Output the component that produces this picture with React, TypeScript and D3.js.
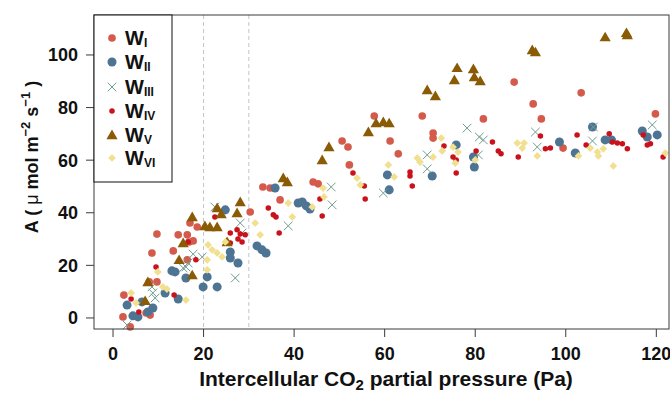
import React from "react";
import * as d3 from "d3";

// Photosynthesis (A) vs intercellular CO2 partial pressure (Ci), six groups W_I..W_VI
const wI: [number, number][] = [
  [2.2, 0.4], [3.8, -3.4], [2.4, 8.7], [7.3, 1.9], [8.2, 1.1], [8.0, 13.7], [9.7, 13.7],
  [8.6, 24.7], [9.7, 31.9], [13.3, 25.5], [14.4, 31.6], [16.4, 31.6], [16.8, 28.9],
  [17.7, 29.3], [16.4, 22.1], [17.0, 36.1], [18.6, 34.6], [30.3, 40.3], [33.1, 49.8],
  [34.7, 49.4], [36.9, 44.9], [44.2, 51.7], [45.3, 51.0], [50.6, 67.3], [51.9, 65.0],
  [52.2, 58.2], [57.7, 76.8], [61.2, 67.3], [63.0, 62.4], [68.3, 76.8], [70.7, 70.3],
  [70.7, 68.4], [81.8, 75.7], [88.6, 89.7], [92.8, 81.4], [94.6, 75.7], [99.4, 64.6],
  [103.4, 85.6], [119.8, 77.6],
];
const wII: [number, number][] = [
  [3.1, 4.9], [4.4, 0.8], [5.5, 0.4], [6.4, 6.1], [7.7, 2.3], [8.8, 3.8], [11.5, 9.5],
  [13.0, 17.9], [13.7, 17.5], [14.4, 7.2], [16.1, 15.2], [19.9, 11.8], [20.8, 15.6],
  [23.0, 11.8], [24.8, 41.1], [25.9, 25.1], [25.9, 22.8], [27.6, 20.9], [31.8, 27.4],
  [32.9, 25.9], [33.8, 24.7], [35.8, 49.4], [40.9, 43.7], [41.8, 44.1], [42.7, 42.6],
  [43.5, 41.4], [60.6, 54.4], [61.0, 48.7], [70.5, 54.0], [75.8, 65.8], [79.6, 61.2],
  [79.8, 57.4], [98.6, 66.9], [102.1, 62.7], [105.9, 72.6], [108.7, 67.7], [110.1, 67.7],
  [116.9, 71.1], [118.0, 68.8], [120.2, 69.6],
];
const wIII: [number, number][] = [
  [3.1, -2.7], [8.6, 11.8], [8.8, 9.5], [9.3, 7.6], [15.5, 19.0], [16.1, 19.4],
  [16.6, 20.9], [17.7, 24.3], [19.7, 23.2], [22.5, 42.2], [28.1, 36.1], [28.5, 32.3],
  [27.0, 15.2], [38.7, 35.0], [48.2, 49.8], [48.4, 43.0], [59.7, 47.5], [69.4, 62.0],
  [69.4, 56.7], [78.2, 72.2], [80.9, 68.8], [81.8, 67.7], [80.7, 62.0], [93.3, 70.7],
  [93.7, 65.0], [106.1, 72.6], [105.9, 67.3], [119.1, 73.4],
];
const wIV: [number, number][] = [
  [4.0, 7.2], [5.7, 2.3], [9.5, 19.4], [13.5, 8.7], [16.6, 28.9], [18.3, 22.1],
  [22.5, 38.4], [25.9, 32.3], [27.4, 33.5], [28.1, 31.9], [27.6, 30.0], [28.5, 28.9],
  [25.9, 28.5], [29.2, 31.6], [34.3, 41.8], [35.4, 39.2], [36.0, 38.4], [36.7, 32.3],
  [45.7, 45.2], [46.2, 38.8], [53.0, 55.1], [55.5, 50.2], [55.7, 45.2], [65.6, 55.5],
  [65.6, 54.0], [66.1, 50.2], [73.1, 65.4], [75.1, 61.2], [75.8, 60.1], [75.8, 55.1],
  [80.2, 63.5], [83.8, 66.9], [85.1, 63.5], [85.7, 62.4], [89.5, 61.2], [94.4, 69.2],
  [95.5, 64.3], [96.6, 64.6], [102.5, 69.6], [104.5, 65.8], [109.6, 70.0], [110.3, 66.9],
  [111.4, 66.5], [112.5, 66.2], [113.6, 64.3], [117.1, 69.6], [118.0, 65.8], [118.7, 66.2],
  [121.5, 61.2],
];
const wV: [number, number][] = [
  [7.1, 6.5], [7.7, 13.7], [14.6, 22.1], [15.5, 28.5], [17.5, 38.4], [17.5, 16.3],
  [20.3, 35.0], [21.4, 34.6], [23.0, 34.6], [23.0, 41.8], [23.9, 39.5], [28.1, 44.1],
  [27.4, 39.9], [25.2, 28.9], [37.6, 53.2], [38.5, 51.7], [46.2, 60.1], [47.7, 65.0],
  [56.4, 70.7], [58.1, 74.1], [59.7, 74.5], [61.0, 74.1], [69.4, 86.7], [71.2, 84.4],
  [75.4, 90.5], [76.0, 95.1], [79.6, 94.7], [79.8, 91.6], [81.1, 90.1], [92.6, 101.9],
  [93.3, 101.1], [108.7, 106.8], [113.4, 108.4], [113.6, 107.6],
];
const wVI: [number, number][] = [
  [4.0, 9.5], [5.1, 5.7], [9.9, 17.5], [11.0, 11.8], [11.9, 11.0], [16.1, 6.8],
  [21.0, 27.8], [21.9, 25.9], [23.0, 24.7], [24.1, 23.2], [20.8, 22.1], [20.8, 18.3],
  [24.8, 28.9], [31.4, 36.1], [32.5, 31.6], [38.7, 43.7], [39.6, 38.4], [44.0, 42.2],
  [46.4, 49.4], [46.6, 46.0], [53.9, 53.2], [54.6, 50.6], [60.8, 58.2], [62.1, 53.6],
  [67.2, 60.8], [67.8, 59.3], [72.5, 68.4], [72.7, 63.5], [70.7, 61.2], [75.1, 65.0],
  [76.2, 63.1], [75.6, 58.9], [80.0, 60.1], [89.3, 66.5], [90.8, 66.5], [90.4, 64.6],
  [93.7, 61.6], [102.8, 61.6], [105.4, 64.6], [107.0, 63.1], [107.2, 61.6], [108.3, 64.3],
  [110.5, 57.8], [122.0, 62.7],
];

const xTicks = [0, 20, 40, 60, 80, 100, 120];
const yTicks = [0, 20, 40, 60, 80, 100];
const refLines = [20, 30];
const groupNames = ["I", "II", "III", "IV", "V", "VI"];

type Shape = "circle" | "bigcircle" | "cross" | "dot" | "triangle" | "diamond";
const groups: { data: [number, number][]; shape: Shape; color: string }[] = [
  { data: wI, shape: "circle", color: "#d45a4b" },
  { data: wII, shape: "bigcircle", color: "#4e7494" },
  { data: wIII, shape: "cross", color: "#6f9e8e" },
  { data: wIV, shape: "dot", color: "#c9121c" },
  { data: wV, shape: "triangle", color: "#8a5a05" },
  { data: wVI, shape: "diamond", color: "#f0e08f" },
];

const W = 670;
const H = 393;
const plot = { left: 94, right: 669, top: 15, bottom: 329 };

const x = d3.scaleLinear().domain([-4.2, 122.8]).range([plot.left, plot.right]);
const y = d3.scaleLinear().domain([-4.2, 115.2]).range([plot.bottom, plot.top]);

const circleSym = d3.symbol().type(d3.symbolCircle).size(46)()!;
const bigCircleSym = d3.symbol().type(d3.symbolCircle).size(64)()!;
const dotSym = d3.symbol().type(d3.symbolCircle).size(24)()!;
const triSym = d3.symbol().type(d3.symbolTriangle).size(54)()!;
const diamondSym = d3.symbol().type(d3.symbolSquare).size(30)()!;

function Marker({ shape, color, cx, cy }: { shape: Shape; color: string; cx: number; cy: number }) {
  const t = `translate(${cx},${cy})`;
  switch (shape) {
    case "circle":
      return <path d={circleSym} transform={t} fill={color} />;
    case "bigcircle":
      return <path d={bigCircleSym} transform={t} fill={color} />;
    case "dot":
      return <path d={dotSym} transform={t} fill={color} />;
    case "triangle":
      return <path d={triSym} transform={`${t} translate(0,1)`} fill={color} />;
    case "diamond":
      return <path d={diamondSym} transform={`${t} rotate(45)`} fill={color} />;
    case "cross": {
      const r = 4.3;
      return (
        <g transform={t} stroke={color} strokeWidth={1}>
          <line x1={-r} y1={-r} x2={r} y2={r} />
          <line x1={-r} y1={r} x2={r} y2={-r} />
        </g>
      );
    }
  }
}

export default function App() {
  const font = "'Liberation Sans', Arial, Helvetica, sans-serif";
  const legendRows = [38, 62, 87, 111, 135, 158];
  return (
    <svg
      width={W}
      height={H}
      style={{ position: "absolute", left: 0, top: 0, background: "#fff" }}
      fontFamily={font}
    >
      {/* reference lines */}
      {refLines.map((v) => (
        <line
          key={v}
          x1={x(v)}
          x2={x(v)}
          y1={plot.top}
          y2={plot.bottom}
          stroke="#c4c4c4"
          strokeWidth={1}
          strokeDasharray="4,3"
        />
      ))}

      {/* points */}
      {groups.map((g, gi) => (
        <g key={gi}>
          {g.data.map(([cx, cy], i) => (
            <Marker key={i} shape={g.shape} color={g.color} cx={x(cx)} cy={y(cy)} />
          ))}
        </g>
      ))}

      {/* frame */}
      <rect
        x={plot.left}
        y={plot.top}
        width={plot.right - plot.left}
        height={plot.bottom - plot.top}
        fill="none"
        stroke="#3a3a3a"
        strokeWidth={1}
      />

      {/* x axis */}
      {xTicks.map((t) => (
        <g key={t}>
          <line x1={x(t)} x2={x(t)} y1={plot.bottom} y2={plot.bottom + 8} stroke="#3a3a3a" />
          <text x={x(t)} y={360} textAnchor="middle" fontSize={18} fontWeight="bold" fill="#111">
            {t}
          </text>
        </g>
      ))}
      <text x={386} y={386} textAnchor="middle" fontSize={21} fontWeight="bold" fill="#111">
        Intercellular CO
        <tspan fontSize={15} dy={4}>2</tspan>
        <tspan dy={-4}> partial pressure (Pa)</tspan>
      </text>

      {/* y axis */}
      {yTicks.map((t) => (
        <g key={t}>
          <line x1={plot.left - 8} x2={plot.left} y1={y(t)} y2={y(t)} stroke="#3a3a3a" />
          <text x={78} y={y(t) + 6.5} textAnchor="end" fontSize={18} fontWeight="bold" fill="#111">
            {t}
          </text>
        </g>
      ))}
      <text
        transform="translate(38,157) rotate(-90)"
        textAnchor="middle"
        fontSize={18}
        fontWeight="bold"
        fill="#111"
      >
        A (
        <tspan fontWeight="normal"> μ </tspan>
        mol m
        <tspan fontSize={13} dy={-8}>−2</tspan>
        <tspan dy={8}> s</tspan>
        <tspan fontSize={13} dy={-8}>−1</tspan>
        <tspan dy={8}> )</tspan>
      </text>

      {/* legend */}
      <rect x={plot.left} y={plot.top} width={78} height={167} fill="#fff" stroke="#111" strokeWidth={1} />
      {groups.map((g, i) => (
        <g key={i}>
          <Marker shape={g.shape} color={g.color} cx={112} cy={legendRows[i]} />
          <text x={125} y={legendRows[i] + 7} fontSize={20} fontWeight="bold" fill="#111">
            W
            <tspan fontSize={12} dy={2}>
              {groupNames[i]}
            </tspan>
          </text>
        </g>
      ))}
    </svg>
  );
}
